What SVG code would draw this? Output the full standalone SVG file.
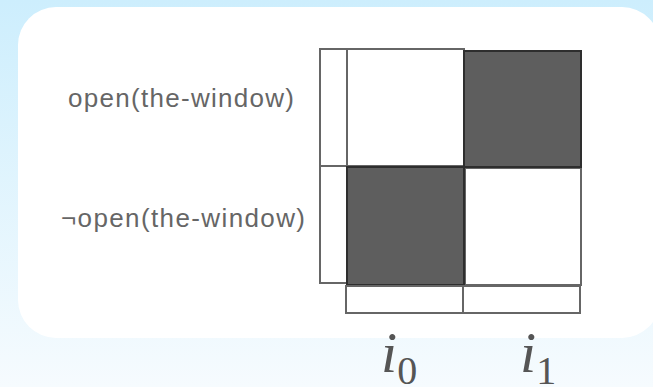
<svg xmlns="http://www.w3.org/2000/svg" width="653" height="387" viewBox="0 0 653 387">
  <defs>
    <linearGradient id="bg" x1="0" y1="0" x2="0" y2="1">
      <stop offset="0" stop-color="#cdeefd"/>
      <stop offset="1" stop-color="#f6fbfe"/>
    </linearGradient>
    <style>
      .cell { stroke: #666; stroke-width: 2; fill: #fff; }
      .dark { stroke: #2e2e2e; stroke-width: 2; fill: #5e5e5e; }
      .lbl { font-family: "Liberation Sans", Arial, sans-serif; font-size: 26px; fill: #666; }
      .idx { font-family: "Liberation Serif", "Times New Roman", serif; fill: #555; }
    </style>
  </defs>
  <rect x="0" y="0" width="653" height="387" fill="url(#bg)"/>
  <rect x="18" y="7" width="642" height="331" rx="38" ry="38" fill="#fff"/>

  <g id="row-labels">
    <text class="lbl" x="68" y="107" textLength="226" lengthAdjust="spacing">open(the-window)</text>
    <text class="lbl" x="61" y="227" textLength="244" lengthAdjust="spacing">¬open(the-window)</text>
  </g>

  <g id="row-margin">
    <rect class="cell" x="320" y="49" width="27" height="117"/>
    <rect class="cell" x="320" y="166" width="27" height="117"/>
  </g>

  <g id="matrix">
    <rect id="c00" class="cell" x="347" y="49" width="117" height="117"/>
    <rect id="c11" class="cell" x="465" y="168" width="116" height="117"/>
    <rect id="c01" class="dark" x="464" y="51" width="117" height="116"/>
    <rect id="c10" class="dark" x="347" y="167" width="117" height="118"/>
  </g>

  <g id="col-margin">
    <rect class="cell" x="346" y="286" width="117" height="27"/>
    <rect class="cell" x="463" y="286" width="117" height="27"/>
  </g>

  <g id="col-labels">
    <text class="idx" x="381" y="372" font-size="58" font-style="italic">i<tspan font-style="normal" font-size="40" dy="12">0</tspan></text>
    <text class="idx" x="520" y="372" font-size="58" font-style="italic">i<tspan font-style="normal" font-size="40" dy="12">1</tspan></text>
  </g>
</svg>
